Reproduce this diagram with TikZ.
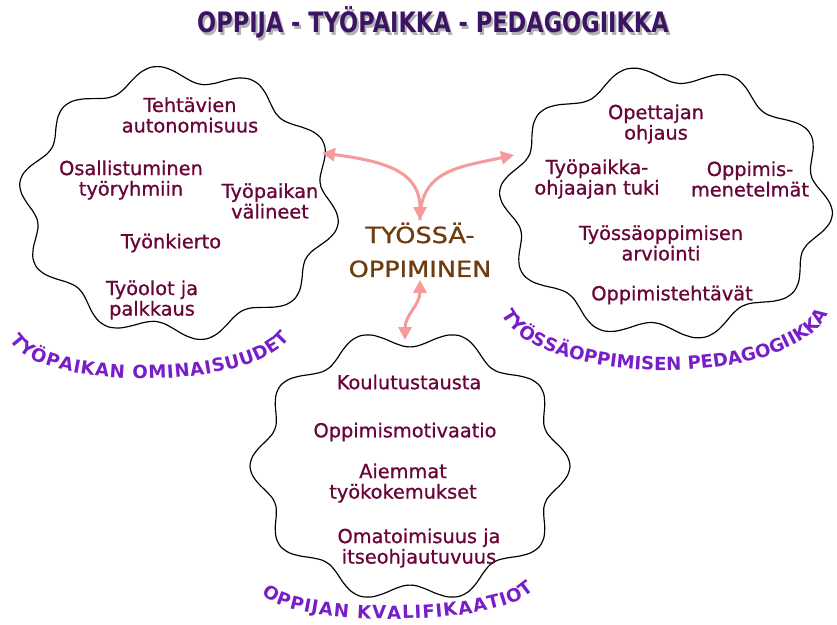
\documentclass[tikz,border=0pt]{standalone}
\usepackage{fontspec}
\setmainfont{DejaVu Sans}
\newfontfamily\itemfont{DejaVu Sans}[FakeBold=0.9]
\usepackage{graphicx}
\usetikzlibrary{arrows.meta,decorations.text}
\definecolor{itemred}{RGB}{105,5,55}
\definecolor{hubbrown}{RGB}{110,60,15}
\definecolor{headpurple}{RGB}{60,20,100}
\definecolor{lblpurple}{RGB}{120,30,200}
\definecolor{linkpink}{RGB}{245,155,155}

\begin{document}
\begin{tikzpicture}[x=.03cm,y=-.03cm,
  item/.style={align=center,text=itemred,font=\itemfont\fontsize{16.5}{17.5}\selectfont},
  cloudline/.style={line width=1pt,black},
  link/.style={draw=linkpink,line width=2.6pt,>={Triangle[length=11pt,width=11pt]}},
  arc label/.style={decorate,decoration={text along path,text align={fit to path},text color=lblpurple,
    text={|\bfseries\fontsize{15.5}{15.5}\selectfont|#1}}}]
\useasboundingbox (0,0) rectangle (837,625);
% title with its shadow
\node[text=black!30] (titleshadow) at (435,25) {\scalebox{.8}[1]{\fontsize{24}{24}\selectfont\bfseries OPPIJA - TYÖPAIKKA - PEDAGOGIIKKA}};
\node[text=headpurple] (title) at (433,22) {\scalebox{.8}[1]{\fontsize{24}{24}\selectfont\bfseries OPPIJA - TYÖPAIKKA - PEDAGOGIIKKA}};
% wavy clouds: centre, radii, phase
\foreach \cx/\cy/\rx/\ry/\ph in {179/203/152/129/0,666/203/158/129/40,410/466/151/128/90}{
  \draw[cloudline] plot[smooth cycle,samples=90,domain=0:356,variable=\t]
    ({\cx+(\rx+9*sin(10*\t+\ph))*cos(\t)},{\cy+(\ry+9*sin(10*\t+\ph))*sin(\t)});
}
% left cloud
\foreach \n/\x/\y/\txt in {lt1/190/115/{Tehtävien\\autonomisuus},lt2/131/180/{Osallistuminen\\työryhmiin},
  lt3/270/201/{Työpaikan\\välineet},lt4/171/243/{Työnkierto},lt5/152/300/{Työolot ja\\palkkaus}}{
  \node[item] (\n) at (\x,\y) {\txt};
}
% right cloud
\foreach \n/\x/\y/\txt in {rt1/656/124/{Opettajan\\ohjaus},rt2/597/179/{Työpaikka-\\ohjaajan tuki},
  rt3/750/179/{Oppimis-\\menetelmät},rt4/661/243/{Työssäoppimisen\\arviointi},rt5/672/295/{Oppimistehtävät}}{
  \node[item] (\n) at (\x,\y) {\txt};
}
% bottom cloud
\foreach \n/\x/\y/\txt in {bt1/409/382/{Koulutustausta},bt2/405/432/{Oppimismotivaatio},
  bt3/403/483/{Aiemmat\\työkokemukset},bt4/419/548/{Omatoimisuus ja\\itseohjautuvuus}}{
  \node[item] (\n) at (\x,\y) {\txt};
}
% hub
\node[align=center,text=hubbrown,inner sep=2pt,font=\itemfont\fontsize{19}{19}\selectfont] (ctr) at (420,250)
  {\scalebox{1.15}[1]{TYÖSSÄ-}\\[10pt]\scalebox{1.15}[1]{OPPIMINEN}};
\coordinate (lc) at (322,153);
\coordinate (rc) at (514,155);
\coordinate (bc) at (405,340);
\draw[link,<->] (lc) .. controls +(60,8) and +(0,-50) .. (ctr.north);
\draw[link,->] (ctr.north) .. controls +(0,-50) and +(-55,12) .. (rc);
\draw[link,<->] (ctr.south) .. controls +(0,25) and +(0,-25) .. (bc);
% curved captions
\path[arc label={TYÖPAIKAN OMINAISUUDET}] (10,340) .. controls (38,392) and (250,392) .. (290,338);
\path[arc label={TYÖSSÄOPPIMISEN PEDAGOGIIKKA}] (502,314) .. controls (535,388) and (790,390) .. (828,314);
\path[arc label={OPPIJAN KVALIFIKAATIOT}] (262,594) .. controls (290,628) and (500,628) .. (534,590);
\end{tikzpicture}
\end{document}
